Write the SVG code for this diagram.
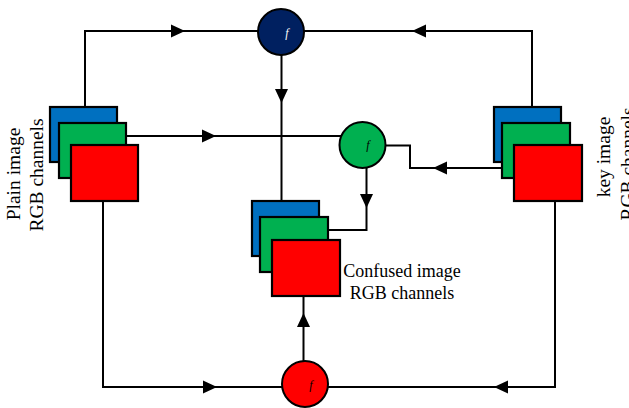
<svg xmlns="http://www.w3.org/2000/svg" xmlns:xlink="http://www.w3.org/1999/xlink" width="629" height="408" viewBox="0 0 629 408">
<style>
.ln{fill:none;stroke:#000;stroke-width:2}
.bx{stroke:#000;stroke-width:2.2}
.b{fill:#0070C0}.g{fill:#00B050}.r{fill:#FF0000}
.cir{stroke:#000;stroke-width:2}
.lbl{font-family:"Liberation Serif","Times New Roman",serif;font-size:19.5px;fill:#000;text-anchor:middle}
.fx{font-family:"Liberation Serif","Times New Roman",serif;font-style:italic;font-size:12px;text-anchor:middle}
</style>
<defs>
<polygon id="ah" points="-14,-6.5 0,0 -14,6.5" fill="#000"/>
</defs>
<rect width="629" height="408" fill="#fff"/>
<g id="connectors">
<path class="ln" d="M85,107 V31 H258"/>
<path class="ln" d="M532,107 V31 H304"/>
<path class="ln" d="M281.5,55 V201"/>
<path class="ln" d="M126,136 H341"/>
<path class="ln" d="M385.5,145.5 H410 V168 H502"/>
<path class="ln" d="M366.5,168 V230 H328"/>
<path class="ln" d="M103,201 V387 H282"/>
<path class="ln" d="M555,201 V387 H328"/>
<path class="ln" d="M303.5,361 V296"/>
<use xlink:href="#ah" transform="translate(185,31)"/>
<use xlink:href="#ah" transform="translate(412,31) rotate(180)"/>
<use xlink:href="#ah" transform="translate(281.5,103) rotate(90)"/>
<use xlink:href="#ah" transform="translate(216,136)"/>
<use xlink:href="#ah" transform="translate(433,168) rotate(180)"/>
<use xlink:href="#ah" transform="translate(366.5,208) rotate(90)"/>
<use xlink:href="#ah" transform="translate(217,387)"/>
<use xlink:href="#ah" transform="translate(494,387) rotate(180)"/>
<use xlink:href="#ah" transform="translate(303.5,313) rotate(-90)"/>
</g>
<g id="plain">
<rect class="bx b" x="50" y="107" width="67" height="55"/>
<rect class="bx g" x="59" y="123" width="67" height="55"/>
<rect class="bx r" x="71" y="145" width="67" height="56"/>
<text class="lbl" transform="translate(20,174) rotate(-90)">Plain image</text>
<text class="lbl" transform="translate(43,175) rotate(-90)">RGB channels</text>
</g>
<g id="key">
<rect class="bx b" x="494" y="107" width="67" height="55"/>
<rect class="bx g" x="502" y="123" width="68" height="55"/>
<rect class="bx r" x="514" y="145" width="68" height="56"/>
<text class="lbl" transform="translate(610,157) rotate(-90)">key image</text>
<text class="lbl" transform="translate(634,164) rotate(-90)">RGB channels</text>
</g>
<g id="confused">
<rect class="bx b" x="252" y="201" width="67" height="55"/>
<rect class="bx g" x="260" y="217" width="68" height="55"/>
<rect class="bx r" x="272" y="240" width="68" height="56"/>
<text class="lbl" style="font-size:18px" x="402" y="277">Confused image</text>
<text class="lbl" style="font-size:18px" x="402" y="299">RGB channels</text>
</g>
<g id="f-top">
<circle class="cir" cx="281" cy="32" r="23" fill="#002060"/>
<text class="fx" x="287" y="37" fill="#fff">f</text>
</g>
<g id="f-mid">
<circle class="cir" cx="362.5" cy="145" r="23" fill="#00B050"/>
<text class="fx" x="368" y="149" fill="#000">f</text>
</g>
<g id="f-bot">
<circle class="cir" cx="305" cy="384" r="23" fill="#FF0000"/>
<text class="fx" x="311" y="389" fill="#000">f</text>
</g>
</svg>
